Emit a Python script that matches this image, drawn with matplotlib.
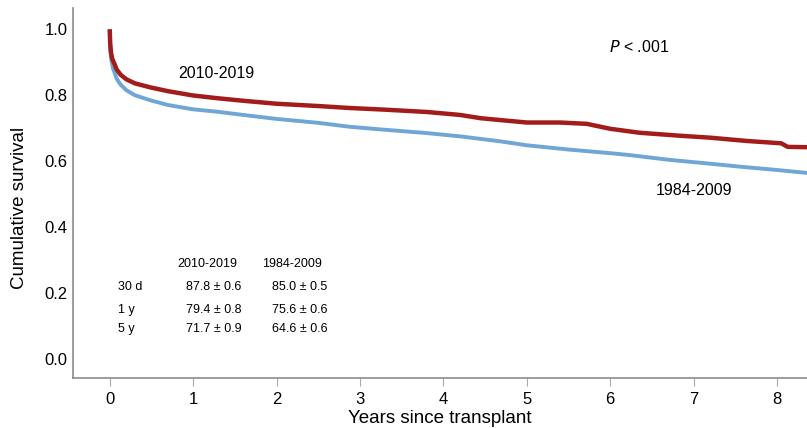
import matplotlib.pyplot as plt

plt.rcParams['font.family'] = ['Liberation Sans', 'DejaVu Sans']

# survival readings (years, cumulative survival)
t_recent = [0, 0.005, 0.015, 0.03, 0.06, 0.083, 0.13, 0.2, 0.3, 0.48, 0.7, 1.0, 1.28, 1.6, 2.0, 2.5,
            2.88, 3.3, 3.8, 4.2, 4.45, 4.7, 5.0, 5.4, 5.72, 6.0, 6.35, 6.83, 7.2, 7.64, 8.05, 8.13, 8.4]
s_recent = [1.0, 0.96, 0.93, 0.91, 0.893, 0.878, 0.862, 0.848, 0.836, 0.824, 0.812, 0.799, 0.791,
            0.783, 0.774, 0.767, 0.761, 0.756, 0.749, 0.740, 0.730, 0.724, 0.717, 0.717, 0.713, 0.698,
            0.686, 0.677, 0.671, 0.661, 0.654, 0.643, 0.642]
t_old = [0, 0.005, 0.02, 0.04, 0.06, 0.083, 0.13, 0.2, 0.3, 0.48, 0.7, 1.0, 1.28, 1.6, 2.0, 2.5,
         2.88, 3.3, 3.8, 4.2, 4.68, 5.0, 5.5, 6.0, 6.24, 6.7, 7.2, 7.6, 8.0, 8.4]
s_old = [1.0, 0.94, 0.905, 0.88, 0.867, 0.850, 0.832, 0.815, 0.800, 0.785, 0.770, 0.757, 0.750,
         0.740, 0.728, 0.716, 0.704, 0.695, 0.685, 0.675, 0.660, 0.648, 0.635, 0.624, 0.618, 0.604,
         0.592, 0.582, 0.573, 0.563]

rows = ['30 d', '1 y', '5 y']
recent_txt = ['87.8 ± 0.6', '79.4 ± 0.8', '71.7 ± 0.9']
old_txt = ['85.0 ± 0.5', '75.6 ± 0.6', '64.6 ± 0.6']

fig = plt.figure(figsize=(8.07, 4.29), dpi=100)
ax = fig.add_axes([0.0905, 0.119, 0.9095, 0.862])

ax.plot(t_old, s_old, color='#6fa6d6', linewidth=2.8, solid_capstyle='butt')
ax.plot(t_recent, s_recent, color='#a31c1c', linewidth=3.2, solid_capstyle='butt')

ax.set_xlim(-0.44, 8.36)
ax.set_ylim(-0.058, 1.064)
ax.set_xticks(range(0, 9))
ax.set_yticks([0.0, 0.2, 0.4, 0.6, 0.8, 1.0])
ax.set_yticklabels(['0.0', '0.2', '0.4', '0.6', '0.8', '1.0'])
ax.tick_params(axis='y', length=0, labelsize=12, pad=4)
ax.tick_params(axis='x', length=6, color='#aaaaaa', labelsize=12, pad=4)
for side in ['top', 'right']:
    ax.spines[side].set_visible(False)
for side in ['left', 'bottom']:
    ax.spines[side].set_color('#8c8c8c')
    ax.spines[side].set_linewidth(1.2)

ax.set_xlabel('Years since transplant', fontsize=13.5, labelpad=2)
ax.set_ylabel('Cumulative survival', fontsize=13.5)
ax.yaxis.set_label_coords(-0.062, 0.46)

ax.text(1.28, 0.867, '2010-2019', fontsize=11.5, ha='center', va='center')
ax.text(7.01, 0.512, '1984-2009', fontsize=11.5, ha='center', va='center')
ax.text(5.99, 0.945, '$P$ < .001', fontsize=11.5, ha='left', va='center')

ax.text(1.17, 0.288, '2010-2019', fontsize=9, ha='center', va='center')
ax.text(2.19, 0.288, '1984-2009', fontsize=9, ha='center', va='center')
row_y = [0.218, 0.148, 0.091]
for i in range(3):
    ax.text(0.1, row_y[i], rows[i], fontsize=9, ha='left', va='center')
    ax.text(0.92, row_y[i], recent_txt[i], fontsize=9, ha='left', va='center')
    ax.text(1.94, row_y[i], old_txt[i], fontsize=9, ha='left', va='center')

fig.savefig('out.png', dpi=100)
